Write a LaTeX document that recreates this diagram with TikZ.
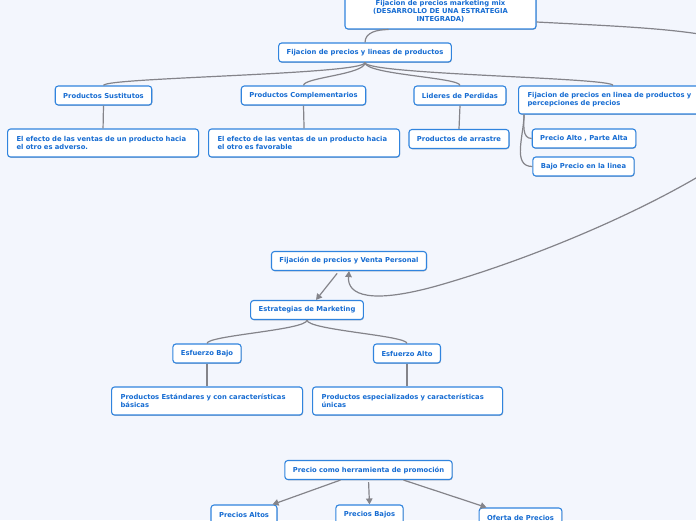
\documentclass[tikz,border=0pt]{standalone}
\usepackage{fontspec}
\setmainfont{DejaVu Sans}
\usepackage{xcolor}
\usetikzlibrary{arrows.meta,shadows}
\definecolor{mmBg}{RGB}{243,246,253}
\definecolor{mmBlue}{RGB}{48,132,222}
\definecolor{mmText}{RGB}{22,108,210}
\definecolor{mmGray}{RGB}{132,132,138}
\newcommand\mmfont{\fontsize{6.8}{8}\selectfont\bfseries}

\begin{document}
\begin{tikzpicture}[
  x=1pt, y=-1pt,
  box/.style={
    draw=mmBlue, line width=1.1pt, rounded corners=3pt,
    fill=white, minimum height=19pt, inner xsep=8pt, inner ysep=2pt,
    align=center, font=\mmfont, text=mmText,
    drop shadow={shadow xshift=0.5pt, shadow yshift=-0.8pt, opacity=0.25, fill=black}
  },
  wbox/.style={box, anchor=west, align=left, minimum height=28pt, inner xsep=9pt},
  link/.style={draw=mmGray, line width=1.2pt},
  arr/.style={link, -{Triangle[length=6pt, width=6.5pt]}},
]

\path[use as bounding box, fill=mmBg] (0,0) rectangle (696,520);
\clip (0,0) rectangle (696,520);

%% Root
\node[box, minimum width=191pt, minimum height=36pt] (root) at (440.5,11)
  {Fijacion de precios marketing mix\\(DESARROLLO DE UNA ESTRATEGIA\\INTEGRADA)};

%% Lineas de productos
\node[box] (lp)  at (365,52.5)  {Fijacion de precios y lineas de productos};
\node[box] (ps)  at (103.5,95.5) {Productos Sustitutos};
\node[box] (pc)  at (303.5,95.5) {Productos Complementarios};
\node[box] (ld)  at (460,95.5)   {Lideres de Perdidas};
\node[wbox, text width=178pt] (fl) at (518,100)
  {Fijacion de precios en linea de productos y\\percepciones de precios};

\node[wbox, text width=173pt] (adv) at (7,143)
  {El efecto de las ventas de un producto hacia\\el otro es adverso.};
\node[wbox, text width=173pt] (fav) at (208,143)
  {El efecto de las ventas de un producto hacia\\el otro es favorable};
\node[box] (pa)  at (459,139)    {Productos de arrastre};
\node[box] (pal) at (584,138.5)  {Precio Alto , Parte Alta};
\node[box] (bpl) at (583.5,166.5) {Bajo Precio en la linea};

%% Venta personal
\node[box] (vp)  at (349,261)    {Fijación de precios y Venta Personal};
\node[box] (em)  at (307,310)    {Estrategias de Marketing};
\node[box] (eb)  at (207,353.5)  {Esfuerzo Bajo};
\node[box] (eal) at (407,353.5)  {Esfuerzo Alto};
\node[wbox, text width=173pt] (pst) at (111,401)
  {Productos Estándares y con características\\básicas};
\node[wbox, text width=172pt] (pes) at (312,401)
  {Productos especializados y características\\únicas};

%% Promocion
\node[box] (ph)  at (368.5,470)  {Precio como herramienta de promoción};
\node[box] (pra) at (244,514.5)  {Precios Altos};
\node[box] (prb) at (369.5,514.5) {Precios Bajos};
\node[box] (op)  at (520.5,517.5) {Oferta de Precios};

%% ── Connectors ──────────────────────────────────────────────

% Root -> children
\draw[link] ([xshift=-52pt]root.south) to[out=180, in=90] (lp.north);
\draw[arr] ([yshift=-11pt]root.east) .. controls (650,28) and (740,30) .. (770,60)
  .. controls (790,110) and (740,150) .. (696,178)
  .. controls (620,222) and (520,262) .. (440,285)
  .. controls (370,305) and (347,295) .. (vp.south);

% Lineas de productos
\foreach \c in {ps,pc,ld}{
  \draw[link] (lp.south) .. controls +(0,12) and +(0,-8) .. (\c.north);
}
\draw[link] (lp.south) .. controls +(0,12) and +(0,-8) .. ([xshift=95pt]fl.north west);
\draw[link] (ps.south) -- (adv.north);
\draw[link] (pc.south) -- (fav.north);
\draw[link] (ld.south) -- (pa.north);
\draw[link] ([xshift=6pt]fl.south west) to[out=-90, in=180] (pal.west);
\draw[link] ([xshift=6pt]fl.south west) to[out=-90, in=180] (bpl.west);

% Venta personal
\draw[arr, shorten <=3pt] ([xshift=-10pt]vp.south) -- ([xshift=9pt]em.north);
\foreach \c in {eb,eal}{
  \draw[link] (em.south) .. controls +(0,10) and +(0,-8) .. (\c.north);
}
\draw[link] (eb.south) -- (eb.south |- pst.north);
\draw[link] (eal.south) -- (eal.south |- pes.north);

% Promocion
\draw[arr] ([xshift=-28pt]ph.south) -- ([xshift=-5pt]pra.north east);
\draw[arr, shorten <=2pt] (ph.south) -- (prb.north);
\draw[arr] ([xshift=35pt]ph.south) -- ([xshift=8pt]op.north west);

\end{tikzpicture}
\end{document}
